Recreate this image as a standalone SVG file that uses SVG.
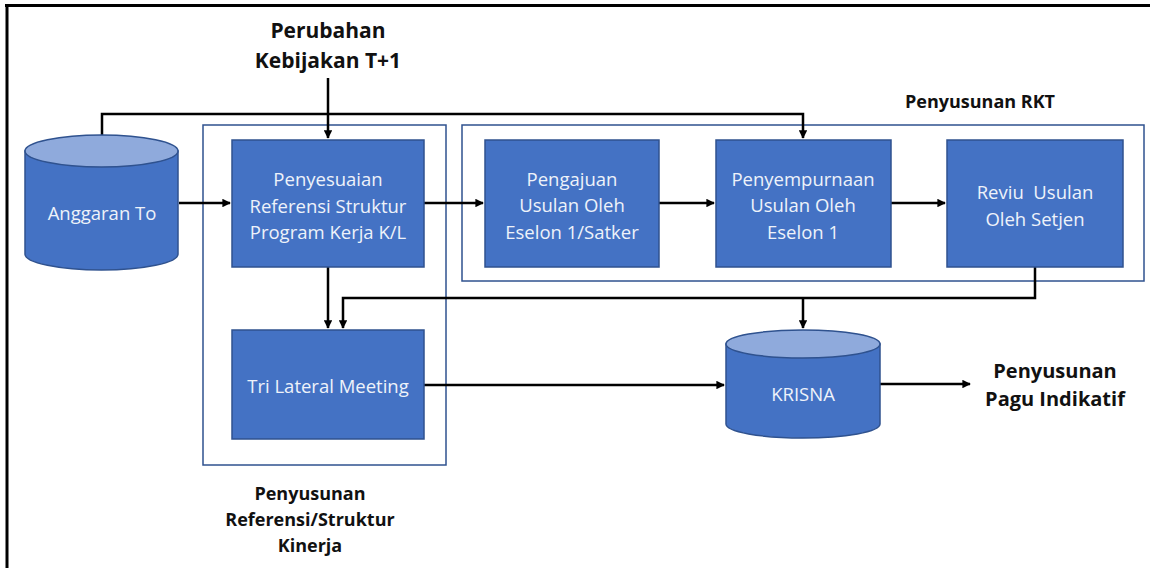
<svg xmlns="http://www.w3.org/2000/svg" width="1150" height="568" viewBox="0 0 1150 568">
  <defs>
    <marker id="arrow" viewBox="0 0 10 10" refX="9" refY="5" markerWidth="3.4" markerHeight="3.4" orient="auto" markerUnits="strokeWidth">
      <path d="M0,0 L10,5 L0,10 z" fill="#000"/>
    </marker>
    <style>
      .box { fill: #4472C4; stroke: #2F528F; stroke-width: 1.5; }
      .cyl { fill: #4472C4; stroke: #2F528F; stroke-width: 1.5; }
      .cyltop { fill: #8FAADC; stroke: #2F528F; stroke-width: 1.5; }
      .group { fill: none; stroke: #2F528F; stroke-width: 1.5; }
      .btxt { font-family: "Open Sans", "Liberation Sans", sans-serif; font-size: 18.5px; fill: #EEF2FA; text-anchor: middle; dominant-baseline: central; }
      .lbl { font-family: "Open Sans", "Liberation Sans", sans-serif; font-weight: bold; fill: #111; text-anchor: middle; dominant-baseline: central; }
      .wire { fill: none; stroke: #000; stroke-width: 2.5; }
    </style>
  </defs>

  <rect width="1150" height="568" fill="#fff"/>

  <!-- frame: top and left rules -->
  <line x1="5" y1="5.5" x2="1150" y2="5.5" stroke="#000" stroke-width="3"/>
  <line x1="7" y1="4" x2="7" y2="568" stroke="#000" stroke-width="3"/>

  <!-- group outlines -->
  <g id="group-referensi">
    <rect class="group" x="203" y="125" width="243" height="340"/>
    <text class="lbl" font-size="18" x="310" y="493">Penyusunan</text>
    <text class="lbl" font-size="18" x="310" y="519">Referensi/Struktur</text>
    <text class="lbl" font-size="18" x="310" y="545">Kinerja</text>
  </g>
  <g id="group-rkt">
    <rect class="group" x="462" y="125" width="682" height="156"/>
    <text class="lbl" font-size="18" x="980" y="101">Penyusunan RKT</text>
  </g>

  <!-- connectors -->
  <g id="connectors">
    <path class="wire" d="M328,78 V138" marker-end="url(#arrow)"/>
    <path class="wire" d="M102,135 V114 H803 V138" marker-end="url(#arrow)"/>
    <path class="wire" d="M179,203 H230" marker-end="url(#arrow)"/>
    <path class="wire" d="M424,203 H483" marker-end="url(#arrow)"/>
    <path class="wire" d="M659,203 H714" marker-end="url(#arrow)"/>
    <path class="wire" d="M891,203 H945" marker-end="url(#arrow)"/>
    <path class="wire" d="M328,267 V328" marker-end="url(#arrow)"/>
    <path class="wire" d="M1035,267 V298 H343 V328" marker-end="url(#arrow)"/>
    <path class="wire" d="M803,298 V328" marker-end="url(#arrow)"/>
    <path class="wire" d="M424,385 H724" marker-end="url(#arrow)"/>
    <path class="wire" d="M880,384 H970" marker-end="url(#arrow)"/>
  </g>

  <!-- external labels -->
  <g id="perubahan">
    <text class="lbl" font-size="21" x="328" y="30">Perubahan</text>
    <text class="lbl" font-size="21" x="328" y="60">Kebijakan T+1</text>
  </g>
  <g id="pagu-indikatif">
    <text class="lbl" font-size="20" x="1055" y="370">Penyusunan</text>
    <text class="lbl" font-size="20" x="1055" y="398">Pagu Indikatif</text>
  </g>

  <!-- data stores -->
  <g id="anggaran-to">
    <path class="cyl" d="M25,151 V254 A76.5,16 0 0 0 178,254 V151 Z"/>
    <ellipse class="cyltop" cx="101.5" cy="151" rx="76.5" ry="16"/>
    <text class="btxt" x="102" y="212">Anggaran To</text>
  </g>
  <g id="krisna">
    <path class="cyl" d="M726,344 V424 A77,14 0 0 0 880,424 V344 Z"/>
    <ellipse class="cyltop" cx="803" cy="344" rx="77" ry="14"/>
    <text class="btxt" x="803" y="393">KRISNA</text>
  </g>

  <!-- process steps -->
  <g id="penyesuaian">
    <rect class="box" x="232" y="140" width="192" height="127"/>
    <text class="btxt" x="328" y="178">Penyesuaian</text>
    <text class="btxt" x="328" y="205">Referensi Struktur</text>
    <text class="btxt" x="328" y="231">Program Kerja K/L</text>
  </g>
  <g id="tri-lateral">
    <rect class="box" x="232" y="330" width="192" height="109"/>
    <text class="btxt" x="328" y="385">Tri Lateral Meeting</text>
  </g>
  <g id="pengajuan">
    <rect class="box" x="485" y="140" width="174" height="127"/>
    <text class="btxt" x="572" y="178">Pengajuan</text>
    <text class="btxt" x="572" y="204">Usulan Oleh</text>
    <text class="btxt" x="572" y="231">Eselon 1/Satker</text>
  </g>
  <g id="penyempurnaan">
    <rect class="box" x="716" y="140" width="175" height="127"/>
    <text class="btxt" x="803" y="178">Penyempurnaan</text>
    <text class="btxt" x="803" y="204">Usulan Oleh</text>
    <text class="btxt" x="803" y="231">Eselon 1</text>
  </g>
  <g id="reviu">
    <rect class="box" x="947" y="140" width="176" height="127"/>
    <text class="btxt" x="1035" y="191" xml:space="preserve">Reviu  Usulan</text>
    <text class="btxt" x="1035" y="218">Oleh Setjen</text>
  </g>
</svg>
